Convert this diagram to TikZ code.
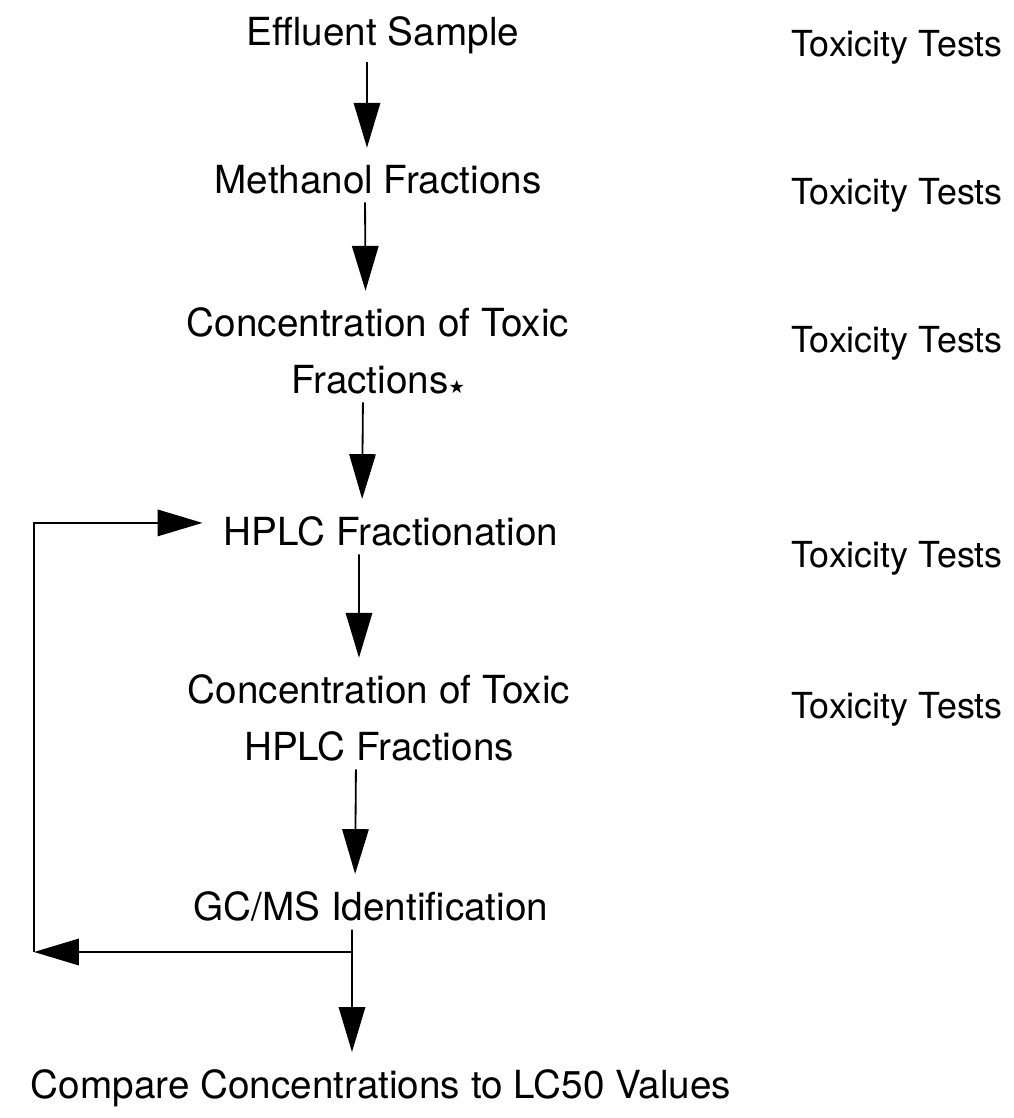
\documentclass[tikz,border=0pt]{standalone}
\usepackage{fontspec}
\setmainfont{TeX Gyre Heros}
\newfontfamily\symfont{DejaVu Sans}
\usetikzlibrary{arrows.meta}

\begin{document}
\begin{tikzpicture}[x=0.025cm, y=-0.025cm,
    stage/.style={inner sep=0pt, anchor=base, align=center,
      font=\fontsize{27.5}{40}\selectfont},
    tox/.style={inner sep=0pt, anchor=base, font=\fontsize{25.5}{30}\selectfont},
    link/.style={line width=1.3pt},
    flow/.style={link, -{Triangle[length=1.12cm, width=0.66cm]},
      shorten <=6pt, shorten >=12pt}]
  \useasboundingbox (0,0) rectangle (1013,1118);

  % ---------- main column ----------
  \node[stage] (eff)   at (383,45)   {Effluent Sample};
  \node[stage] (meth)  at (378,193)  {Methanol Fractions};
  \node[stage] (conc)  at (378,393)  {Concentration of Toxic\\Fractions{\symfont\fontsize{13}{13}\selectfont ★}};
  \node[stage] (hplc)  at (391,545)  {HPLC Fractionation};
  \node[stage] (conch) at (379,760)  {Concentration of Toxic\\HPLC Fractions};
  \node[stage] (gcms)  at (371,920)  {GC/MS Identification};
  \node[stage] (cmp)   at (381,1098) {Compare Concentrations to LC50 Values};

  % ---------- right column ----------
  \foreach \y/\n in {56/tox1, 204/tox2, 352/tox3, 567/tox4, 718/tox5}
    \node[tox] (\n) at (897,\y) {Toxicity Tests};

  % ---------- arrows down ----------
  \draw[flow] ([xshift=-0.4cm]eff.south)    -- ([xshift=-0.275cm]meth.north);
  \draw[flow] ([xshift=-0.325cm]meth.south) -- ([xshift=-0.31cm]conc.north);
  \draw[flow] ([xshift=-0.375cm]conc.south) -- ([xshift=-0.725cm]hplc.north);
  \draw[flow] ([xshift=-0.8cm]hplc.south)   -- ([xshift=-0.5cm]conch.north);
  \draw[flow] ([xshift=-0.575cm]conch.south) -- ([xshift=-0.4cm]gcms.north);

  % ---------- split after GC/MS and loop back ----------
  \coordinate (fork) at (352,952);
  \coordinate (loop) at (34,952);
  \draw[link, shorten <=6pt] ([xshift=-0.475cm]gcms.south) -- (fork);
  \draw[flow, shorten <=0pt] (fork) -- ([xshift=-0.725cm]cmp.north);
  \draw[flow, shorten <=0pt, shorten >=0pt] (fork) -- (loop);
  \draw[flow, shorten <=0pt, shorten >=15pt] (loop) |- ([yshift=0.2cm]hplc.west);
\end{tikzpicture}
\end{document}
